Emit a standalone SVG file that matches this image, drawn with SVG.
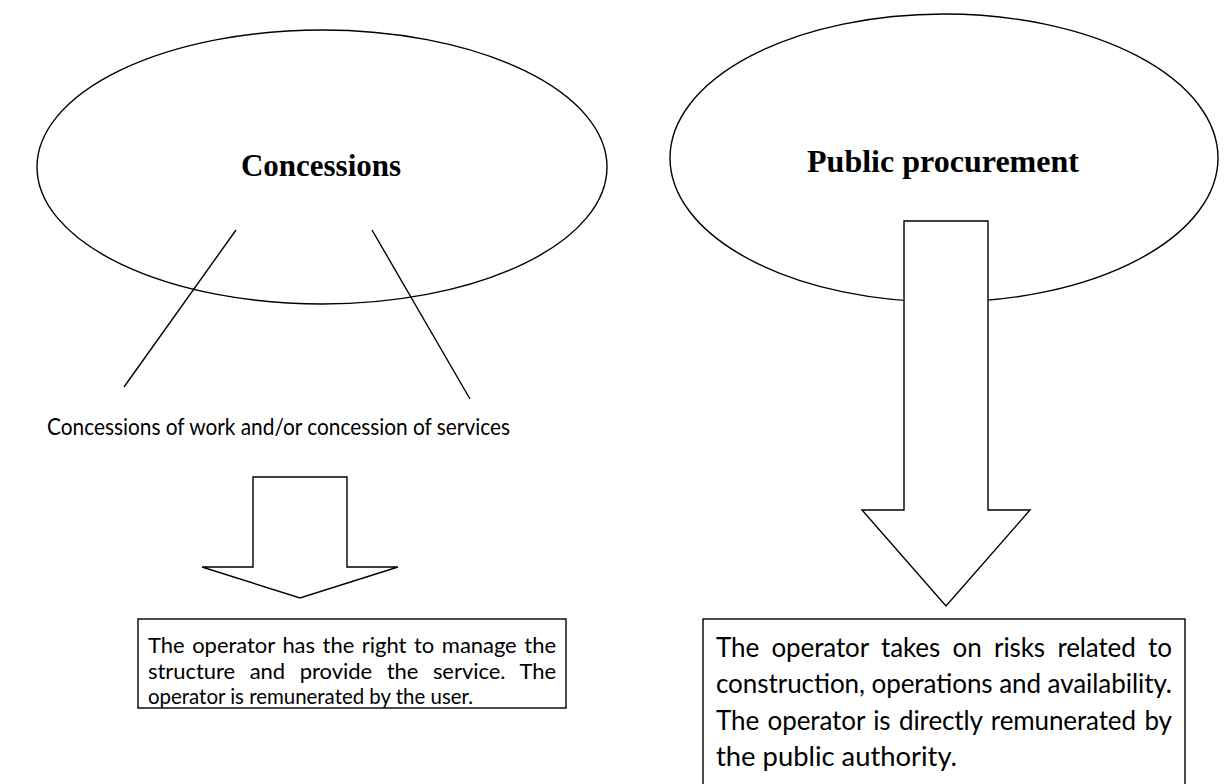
<svg xmlns="http://www.w3.org/2000/svg" width="1230" height="784" viewBox="0 0 1230 784">
  <style>
    .shape { fill: #ffffff; stroke: #000000; stroke-width: 1.4; }
    .line { fill: none; stroke: #000000; stroke-width: 1.4; }
    .title { font-family: "Liberation Serif", "Times New Roman", serif; font-weight: bold; font-size: 31px; fill: #000000; text-anchor: middle; }
    .body { font-family: Lato, "Open Sans", "Liberation Sans", sans-serif; fill: #000000; }
  </style>

  <rect x="0" y="0" width="1230" height="784" fill="#ffffff"/>

  <!-- Concessions -->
  <g id="node-concessions">
    <ellipse class="shape" cx="322" cy="167" rx="285" ry="137"/>
    <text class="title" x="321" y="176">Concessions</text>
  </g>

  <!-- Public procurement -->
  <g id="node-public-procurement">
    <ellipse class="shape" cx="944" cy="158" rx="274" ry="144"/>
    <text class="title" x="943" y="172" textLength="272" lengthAdjust="spacingAndGlyphs">Public procurement</text>
  </g>

  <!-- Types of concession -->
  <g id="node-concession-types">
    <text class="body" x="47" y="435" font-size="23" textLength="463" lengthAdjust="spacingAndGlyphs">Concessions of work and/or concession of services</text>
  </g>

  <!-- Concession operator box (justified lines use extra word spacing) -->
  <g id="node-concession-box">
    <rect class="shape" x="138" y="619" width="428" height="89"/>
    <g class="body" font-size="22">
      <text x="148" y="653" word-spacing="2" textLength="408" lengthAdjust="spacing">The operator has the right to manage the</text>
      <text x="148" y="679" word-spacing="9" textLength="408" lengthAdjust="spacing">structure and provide the service. The</text>
      <text x="148" y="704" textLength="325" lengthAdjust="spacingAndGlyphs">operator is remunerated by the user.</text>
    </g>
  </g>

  <!-- Procurement operator box -->
  <g id="node-procurement-box">
    <rect class="shape" x="703" y="619" width="482" height="180"/>
    <g class="body" font-size="26">
      <text x="716" y="657" word-spacing="6" textLength="456" lengthAdjust="spacing">The operator takes on risks related to</text>
      <text x="716" y="693" textLength="456" lengthAdjust="spacing">construction, operations and availability.</text>
      <text x="716" y="730" word-spacing="2" textLength="456" lengthAdjust="spacing">The operator is directly remunerated by</text>
      <text x="716" y="766" textLength="241" lengthAdjust="spacingAndGlyphs">the public authority.</text>
    </g>
  </g>

  <!-- Connectors -->
  <g id="connectors">
    <line class="line" x1="236" y1="230" x2="124" y2="387"/>
    <line class="line" x1="372" y1="230" x2="470" y2="399"/>
    <polygon class="shape" points="253,477 347,477 347,567 398,567 300,598 202,567 253,567"/>
    <polygon class="shape" points="904,221 988,221 988,510 1030,510 946,606 862,510 904,510"/>
  </g>
</svg>
